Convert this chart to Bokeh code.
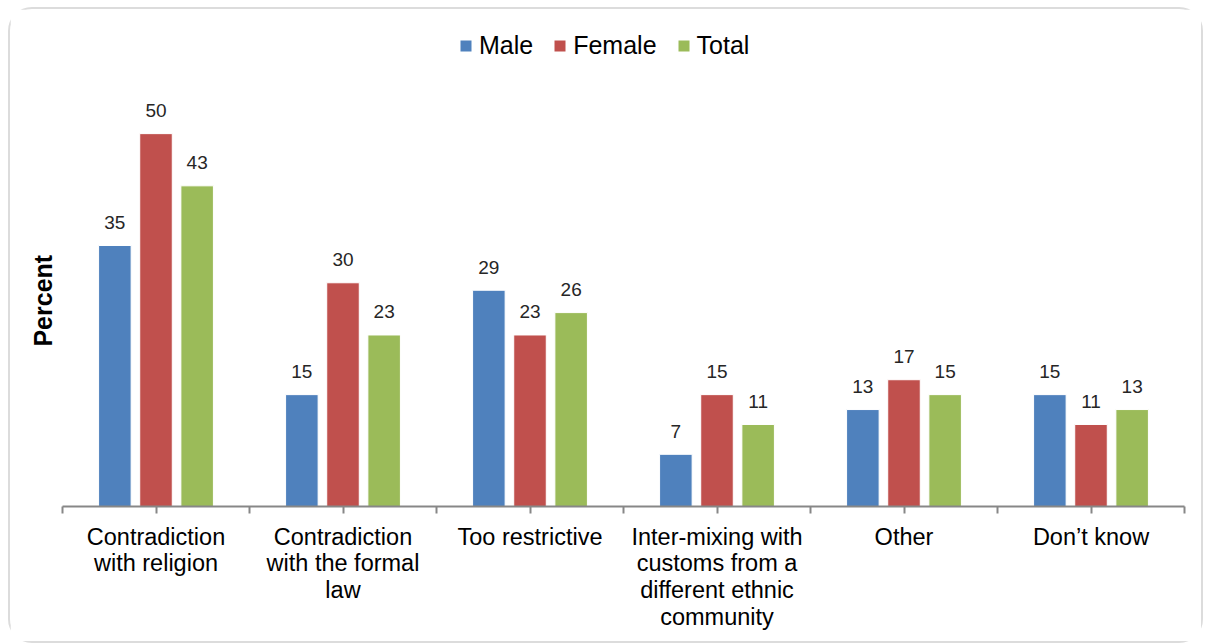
from bokeh.plotting import figure
from bokeh.models import Range1d, FixedTicker, Legend, LegendItem, ColumnDataSource
from bokeh.core.properties import value
from bokeh.embed import file_html
from bokeh.resources import INLINE

# Reasons given, by sex (percent)
categories = [
    "Contradiction\nwith religion",
    "Contradiction\nwith the formal\nlaw",
    "Too restrictive",
    "Inter-mixing with\ncustoms from a\ndifferent ethnic\ncommunity",
    "Other",
    "Don\u2019t know",
]
male = [35, 15, 29, 7, 13, 15]
female = [50, 30, 23, 15, 17, 11]
total = [43, 23, 26, 11, 15, 13]

series_names = ["Male", "Female", "Total"]
series_values = [male, female, total]
series_colors = ["#4F81BD", "#C0504D", "#9BBB59"]

FONT = "Liberation Sans"
n = len(categories)

# plot area reaches up to the legend row; the value axis runs 0..64.5
p = figure(
    width=1195, height=636,
    x_range=Range1d(0, n), y_range=Range1d(0, 64.5),
    output_backend="svg", toolbar_location=None,
    min_border_left=52, min_border_right=21,
    min_border_top=16, min_border_bottom=139,
)
p.margin = (7, 0, 0, 8)
p.styles = {"border": "2px solid #dcdcdc", "border-radius": "24px", "box-sizing": "border-box"}
p.outline_line_color = None
p.grid.visible = False
p.background_fill_color = "white"
p.border_fill_color = "white"

# x axis: ticks at group edges and centres, labels only at centres
ticks = [i * 0.5 for i in range(2 * n + 1)]
p.xaxis.ticker = FixedTicker(ticks=ticks)
overrides = {}
for t in ticks:
    overrides[t] = ""
for i, c in enumerate(categories):
    overrides[i + 0.5] = c
p.xaxis.major_label_overrides = overrides
p.xaxis.axis_line_color = "#878787"
p.xaxis.axis_line_width = 2
p.xaxis.major_tick_line_color = "#878787"
p.xaxis.major_tick_line_width = 2
p.xaxis.major_tick_out = 7
p.xaxis.major_tick_in = 0
p.xaxis.minor_tick_line_color = None
p.xaxis.major_label_text_font = FONT
p.xaxis.major_label_text_font_size = "23.5px"
p.xaxis.major_label_text_line_height = 1.03
p.xaxis.major_label_text_color = "#000000"
p.xaxis.major_label_standoff = 10
p.xaxis.major_label_orientation = "horizontal"

# y axis: only the title is shown; trailing no-break spaces push the
# title down so it sits level with the bars rather than the legend row
p.yaxis.ticker = FixedTicker(ticks=[])
p.yaxis.axis_line_color = None
p.yaxis.major_tick_line_color = None
p.yaxis.minor_tick_line_color = None
p.yaxis.axis_label = "Percent" + "\u00a0" * 10
p.yaxis.axis_label_text_font = FONT
p.yaxis.axis_label_text_font_size = "25px"
p.yaxis.axis_label_text_font_style = "bold"
p.yaxis.axis_label_text_color = "#000000"
p.yaxis.axis_label_standoff = 6

offsets = [-0.22, 0.0, 0.22]
bar_w = 0.174
items = []
for name, vals, color, off in zip(series_names, series_values, series_colors, offsets):
    src = ColumnDataSource(dict(
        x=[i + 0.5 + off for i in range(n)],
        top=vals,
        label=[str(v) for v in vals],
    ))
    r = p.vbar(x="x", top="top", width=bar_w, bottom=0, source=src,
               fill_color=color, line_color="white", line_width=1)
    p.text(x="x", y="top", text="label", source=src,
           text_font=value(FONT), text_font_size="19px", text_color="#262626",
           text_align="center", text_baseline="alphabetic", y_offset=-23)
    items.append(LegendItem(label=name, renderers=[r]))

legend = Legend(
    items=items, orientation="horizontal", location=(396, 446),
    label_text_font=FONT, label_text_font_size="25px", label_text_color="#000000",
    glyph_width=15, glyph_height=15, label_standoff=6, spacing=19,
    border_line_color=None, background_fill_alpha=0, padding=0, margin=0,
)
p.add_layout(legend, "center")

open("out.html", "w").write(file_html(p, INLINE))
